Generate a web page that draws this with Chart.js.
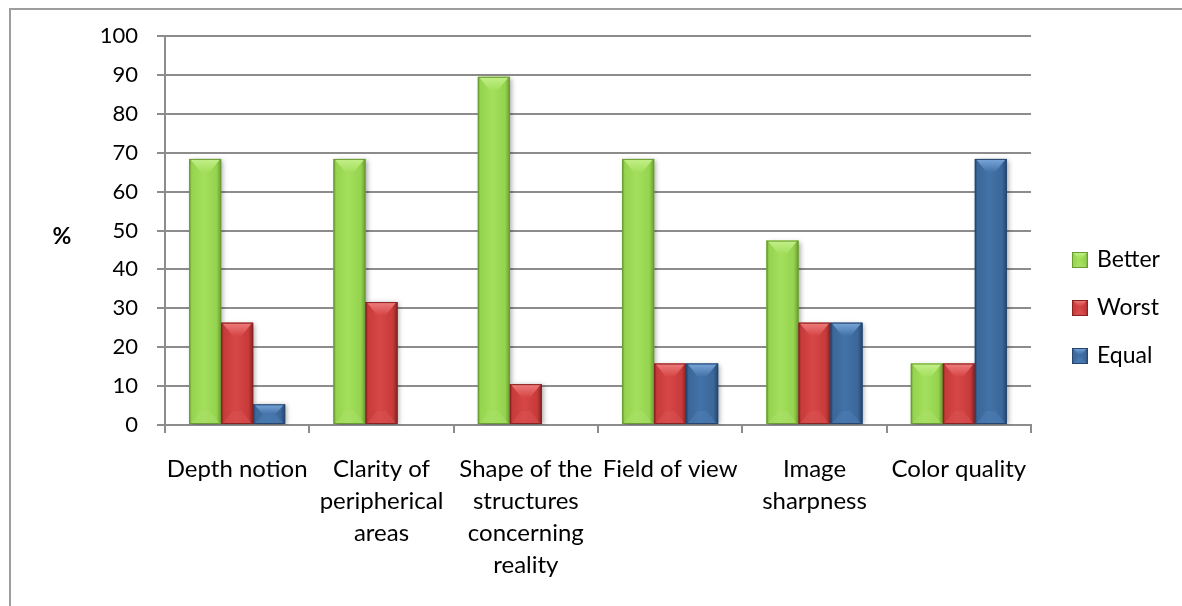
<!DOCTYPE html>
<html>
<head>
<meta charset="utf-8">
<title>Comparison of image attributes</title>
<script src="https://cdn.jsdelivr.net/npm/chart.js@4.4.1/dist/chart.umd.min.js"></script>
<style>
  html, body { margin: 0; padding: 0; background: #ffffff; }
  #wrap { width: 1182px; height: 606px; position: relative; }
</style>
</head>
<body>
<div id="wrap"><canvas id="chart" width="1182" height="606"></canvas></div>
<script>
// Categories (multi-line labels) and percentage of answers per series
const categories = [
  'Depth notion',
  ['Clarity of', 'peripherical', 'areas'],
  ['Shape of the', 'structures', 'concerning', 'reality'],
  'Field of view',
  ['Image', 'sharpness'],
  'Color quality'
];
const better = [68.4, 68.4, 89.5, 68.4, 47.4, 15.8];
const worst  = [26.3, 31.6, 10.5, 15.8, 26.3, 15.8];
const equal  = [5.3, 0, 0, 15.8, 26.3, 68.4];
const yTicks = [0, 10, 20, 30, 40, 50, 60, 70, 80, 90, 100];
const seriesNames = ['Better', 'Worst', 'Equal'];

const FONT = 'Lato, "Open Sans", "DejaVu Sans", sans-serif';
const GRID = '#8c8c8c';

// Shading used for the bevelled bar look
const shades = [
  { base: '#95d44f', edge: '#6b9c34', light: '#a3df5c', hi: '#c4f08a', low: '#a9e06a' },
  { base: '#c83b3b', edge: '#8a2222', light: '#d64646', hi: '#ef7d7d', low: '#d85252' },
  { base: '#3b6799', edge: '#264670', light: '#4372a8', hi: '#7ba7da', low: '#4d7db5' }
];

function drawBevelBox(ctx, left, top, right, bottom, s, maxBevel) {
  const w = right - left, h = bottom - top;
  if (w <= 0 || h <= 0) return;
  // body: horizontal shading
  const g = ctx.createLinearGradient(left, 0, right, 0);
  g.addColorStop(0, s.edge);
  g.addColorStop(0.08, s.base);
  g.addColorStop(0.45, s.light);
  g.addColorStop(0.85, s.base);
  g.addColorStop(1, s.edge);
  ctx.fillStyle = g;
  ctx.fillRect(left, top, w, h);
  const b = Math.min(maxBevel, h / 2);
  const inset = Math.min(w * 0.36, b);
  // top bevel
  const gt = ctx.createLinearGradient(0, top, 0, top + b);
  gt.addColorStop(0, s.hi);
  gt.addColorStop(1, s.light);
  ctx.fillStyle = gt;
  ctx.beginPath();
  ctx.moveTo(left + 1, top);
  ctx.lineTo(right - 1, top);
  ctx.lineTo(right - inset, top + b);
  ctx.lineTo(left + inset, top + b);
  ctx.closePath();
  ctx.fill();
  // bottom bevel
  ctx.fillStyle = s.low;
  ctx.globalAlpha = 0.55;
  ctx.beginPath();
  ctx.moveTo(left + 1, bottom);
  ctx.lineTo(right - 1, bottom);
  ctx.lineTo(right - inset, bottom - b);
  ctx.lineTo(left + inset, bottom - b);
  ctx.closePath();
  ctx.fill();
  ctx.globalAlpha = 1;
  // edges
  ctx.strokeStyle = s.edge;
  ctx.lineWidth = 1;
  ctx.strokeRect(left + 0.5, top + 0.5, w - 1, h - 1);
}

// Soft drop shadow under the bars, then bevel shading on top of each bar
const barShading = {
  id: 'barShading',
  beforeDatasetsDraw(chart) {
    const ctx = chart.ctx;
    ctx.save();
    ctx.shadowColor = 'rgba(0,0,0,0.35)';
    ctx.shadowBlur = 5;
    ctx.shadowOffsetX = 2;
    ctx.shadowOffsetY = 1;
  },
  afterDatasetsDraw(chart) {
    const ctx = chart.ctx;
    ctx.restore();
    ctx.save();
    chart.data.datasets.forEach((ds, di) => {
      const meta = chart.getDatasetMeta(di);
      meta.data.forEach(el => {
        const p = el.getProps(['x', 'y', 'base', 'width'], true);
        const left = p.x - p.width / 2, right = p.x + p.width / 2;
        const top = Math.min(p.y, p.base), bottom = Math.max(p.y, p.base);
        drawBevelBox(ctx, left, top, right, bottom, shades[di], 13);
      });
    });
    ctx.restore();
  }
};

// Outer frame, axis unit and the series key on the right
const decorations = {
  id: 'decorations',
  beforeDraw(chart) {
    const ctx = chart.ctx;
    ctx.save();
    ctx.strokeStyle = '#9d9d9d';
    ctx.lineWidth = 2;
    ctx.strokeRect(10, 9, 1400, 1000);
    ctx.restore();
  },
  afterDraw(chart) {
    const ctx = chart.ctx;
    ctx.save();
    ctx.fillStyle = '#000000';
    ctx.font = 'bold 23px ' + FONT;
    ctx.textAlign = 'center';
    ctx.textBaseline = 'middle';
    ctx.fillText('%', 62, 237);

    ctx.font = '23px ' + FONT;
    ctx.textAlign = 'left';
    chart.data.datasets.forEach((ds, i) => {
      const cy = 260 + i * 48;
      drawBevelBox(ctx, 1072, cy - 8, 1088, cy + 8, shades[i], 6);
      ctx.fillStyle = '#000000';
      ctx.fillText(ds.label, 1097, cy);
    });
    ctx.restore();
  }
};

const mkSet = (name, values, i) => ({
  label: name,
  data: values,
  backgroundColor: shades[i].base,
  borderWidth: 0,
  barPercentage: 1,
  categoryPercentage: 0.665
});

new Chart(document.getElementById('chart'), {
  type: 'bar',
  data: {
    labels: categories,
    datasets: [
      mkSet(seriesNames[0], better, 0),
      mkSet(seriesNames[1], worst, 1),
      mkSet(seriesNames[2], equal, 2)
    ]
  },
  options: {
    responsive: false,
    animation: false,
    devicePixelRatio: 1,
    layout: { padding: { left: 0, top: 36, right: 151, bottom: 0 } },
    plugins: {
      legend: { display: false },
      tooltip: { enabled: false }
    },
    scales: {
      x: {
        afterFit(scale) { scale.height = 181; },
        grid: {
          display: true,
          drawOnChartArea: false,
          drawTicks: true,
          tickLength: 8,
          color: GRID,
          lineWidth: 2,
          offset: true
        },
        border: { display: true, color: GRID, width: 2 },
        ticks: {
          color: '#000000',
          font: { family: FONT, size: 24, lineHeight: 32 / 24 },
          padding: 20,
          autoSkip: false,
          maxRotation: 0,
          minRotation: 0
        }
      },
      y: {
        min: 0,
        max: 100,
        afterFit(scale) { scale.width = 165; },
        afterBuildTicks(scale) { scale.ticks = yTicks.map(v => ({ value: v })); },
        grid: {
          color: GRID,
          lineWidth: 2,
          drawTicks: true,
          tickLength: 8
        },
        border: { display: true, color: GRID, width: 2 },
        ticks: {
          color: '#000000',
          font: { family: FONT, size: 22 },
          padding: 19
        }
      }
    }
  },
  plugins: [barShading, decorations]
});
</script>
</body>
</html>
